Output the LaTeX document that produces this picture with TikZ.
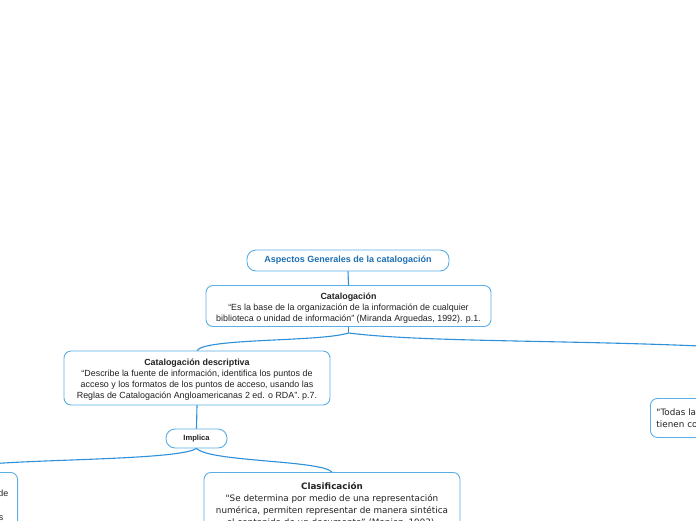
\documentclass[tikz,border=0pt]{standalone}
\usepackage{fontspec}
\setmainfont{Liberation Sans}
\newfontfamily\verd{DejaVu Sans}
\definecolor{bordc}{HTML}{5AAEE6}
\definecolor{linec}{HTML}{2E90D8}
\definecolor{titc}{HTML}{1E6FB3}
\definecolor{txtc}{HTML}{222222}
\tikzset{
  mbox/.style={draw=bordc, line width=0.9pt, fill=white, rounded corners=7pt, inner sep=0pt, align=center, text=txtc, font=\fontsize{8.9}{10.7}\selectfont},
  pill/.style={mbox, rounded corners=9pt},
  conn/.style={draw=linec, line width=1.1pt},
}
\begin{document}
\begin{tikzpicture}[x=1pt,y=-1pt]
\useasboundingbox (0,0) rectangle (696,520);
\clip (0,0) rectangle (696,520);
% connectors
\coordinate (s2) at (348.5,333);
\coordinate (offr) at (700,346);
\coordinate (offl) at (-4,463.5);
\node[pill, minimum width=202pt, minimum height=21pt, text=titc, font=\bfseries\fontsize{9}{10}\selectfont] (a) at (348,260.5) {Aspectos Generales de la catalogación};
\node[mbox, minimum width=285pt, minimum height=41pt] (b) at (348.5,306) {\rule{0pt}{10.5pt}\textbf{Catalogación}\\“Es la base de la organización de la información de cualquier\\biblioteca o unidad de información” (Miranda Arguedas, 1992). p.1.};
\node[mbox, minimum width=266pt, minimum height=54pt, font=\fontsize{8.9}{11}\selectfont] (c) at (197,378) {\rule{0pt}{9.5pt}\textbf{Catalogación descriptiva}\\“Describe la fuente de información, identifica los puntos de\\acceso y los formatos de los puntos de acceso, usando las\\Reglas de Catalogación Angloamericanas 2 ed. o RDA”. p.7.};
\node[pill, minimum width=61pt, minimum height=19pt, font=\bfseries\fontsize{7.6}{8}\selectfont] (d) at (196.5,438.5) {Implica};
\node[mbox, minimum width=256pt, minimum height=64pt, anchor=north, inner ysep=3pt, font=\verd\fontsize{8.8}{12}\selectfont] (e) at (332,472) {\textbf{Clasificación}\\"Se determina por medio de una representación\\numérica, permiten representar de manera sintética\\el contenido de un documento” (Maniez, 1993).};
\node[mbox, minimum width=120pt, minimum height=70pt, anchor=north east] (f) at (18,472) {};
\node[anchor=base east, text=txtc, font=\fontsize{8.9}{10}\selectfont, inner sep=0pt] (f1) at (8.5,496.5) {de};
\node[anchor=base east, text=txtc, font=\fontsize{8.9}{10}\selectfont, inner sep=0pt] (f2) at (3.5,520.5) {s};
\node[mbox, minimum width=120pt, minimum height=39pt, anchor=north west, align=left, text width=112pt, font=\verd\fontsize{8.8}{12}\selectfont] (g) at (650,398) {\hspace*{2pt}"Todas la\\\hspace*{2pt}tienen co};
\draw[conn] (a.south) -- (b.north);
\draw[conn] (b.south) -- (s2);
\draw[conn] (s2) .. controls (320,342) and (205,338) .. (c.north);
\draw[conn] (s2) .. controls (420,342) and (560,340) .. (offr);
\draw[conn] (c.south) -- (d.north);
\draw[conn] (d.south) .. controls (180,459) and (60,459) .. (offl);
\draw[conn] (d.south) .. controls (210,462) and (320,460) .. (e.north);
\end{tikzpicture}
\end{document}
